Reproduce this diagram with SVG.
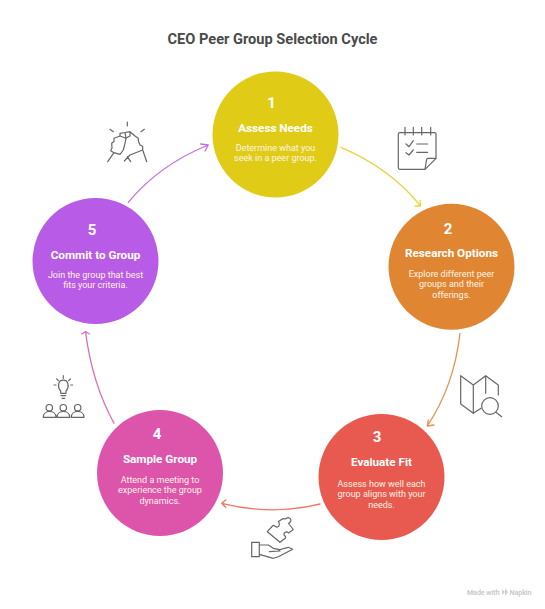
<svg xmlns="http://www.w3.org/2000/svg" width="545" height="609" viewBox="0 0 545 609">
<style>
text{font-family:Roboto,"Liberation Sans",sans-serif;text-anchor:middle;fill:#fff}
.t{font-size:14.6px;font-weight:700;fill:#4a4a4a}
.n{font-size:15px;font-weight:700}
.h{font-size:11.7px;font-weight:700}
.d{font-size:9px;fill:#fdf3e6}
.i{fill:none;stroke:#666;stroke-width:1.2;stroke-linecap:round;stroke-linejoin:round}
.c{fill:none;stroke-width:1.3;stroke-linecap:round;stroke-linejoin:round}
.m{font-size:7px;fill:#c4c4c4;font-weight:500;text-anchor:start}
</style>
<rect width="545" height="609" fill="#fff"/>
<text class="t" x="272.500" y="43.500">CEO Peer Group Selection Cycle</text>
<g id="connectors">
<path class="c" stroke="#e9d33d" d="M341 147.300Q390 168 420.700 206M415 206H420.700L420 200.500"/>
<path class="c" stroke="#e8904f" d="M460 333.300Q454 386 427.300 426M428.300 420L427.300 426L434 425"/>
<path class="c" stroke="#ee7668" d="M320 504Q272 516 221.700 503.300M225.700 500L221.700 503.300L225.700 507.300"/>
<path class="c" stroke="#e468b8" d="M114 423.300Q92 383 85.500 331.500M81.700 334L85.500 331.500L89.300 334"/>
<path class="c" stroke="#c46fe8" d="M128.300 202.300Q159 165 208.300 145M200.700 144L208.300 145L205 151"/>
</g>
<g id="node-1"><circle cx="275.500" cy="134.500" r="63" fill="#e0cc17"/>
<text class="n" x="271.500" y="108">1</text><text class="h" x="275.500" y="131.700">Assess Needs</text>
<text class="d" x="275.500" y="151">Determine what you</text><text class="d" x="275.500" y="161">seek in a peer group.</text></g>
<g id="node-2"><circle cx="451.500" cy="266.700" r="63" fill="#e08632"/>
<text class="n" x="448" y="234">2</text><text class="h" x="451.500" y="256.700">Research Options</text>
<text class="d" x="451.500" y="277">Explore different peer</text><text class="d" x="451.500" y="287">groups and their</text><text class="d" x="451.500" y="298">offerings.</text></g>
<g id="node-3"><circle cx="381.500" cy="477" r="63" fill="#e85a50"/>
<text class="n" x="377" y="441.500">3</text><text class="h" x="381.500" y="466">Evaluate Fit</text>
<text class="d" x="381.500" y="487">Assess how well each</text><text class="d" x="381.500" y="497">group aligns with your</text><text class="d" x="381.500" y="508">needs.</text></g>
<g id="node-4"><circle cx="160" cy="473" r="63" fill="#dd55ab"/>
<text class="n" x="157" y="438.500">4</text><text class="h" x="160" y="462.700">Sample Group</text>
<text class="d" x="160" y="483">Attend a meeting to</text><text class="d" x="160" y="493">experience the group</text><text class="d" x="160" y="504">dynamics.</text></g>
<g id="node-5"><circle cx="95.500" cy="261" r="63" fill="#b85be6"/>
<text class="n" x="92" y="235">5</text><text class="h" x="95.500" y="258.700">Commit to Group</text>
<text class="d" x="95.500" y="278">Join the group that best</text><text class="d" x="95.500" y="288">fits your criteria.</text></g>
<g id="icon-handshake" class="i"><path d="M127.300 122V126M110 129.300L113.300 131.700M144.300 129.300L141 131.700M107.700 161.700L114 152.700"/>
<path d="M110.700 150.700L112 148L111.700 143.300L114 141.500L114 138.300L120 136L126 138.300L125 143.300L123.300 150L120 154.300L114 152.700Z"/>
<path d="M120 136L120 133.300L125 132.500L130 131.700L135 136L138.300 138.300L138.500 141.500L140 145L142.700 146.500L142.700 150L146.700 161.700M125 132.500L126 138.300M130 131.700L130 136L126 138M142.700 150L130 155L124.300 161M127.300 156.700L130.700 161.700"/></g>
<g id="icon-checklist" class="i"><path d="M436 158.300V134Q436 132.700 434.500 132.700H400Q398.300 132.700 398.300 134.500V167.500Q398.300 169.300 400 169.300H425Z"/><path d="M436 158.300H428Q426.700 158.300 426.500 160L425 169.300M405 127.300V135M413.300 127.300V135M421.700 127.300V135M430.700 127.300V135M406 144L409 146.700L413.300 140.700M416.700 144H427.700M406 152.700L409 155L413.300 150M416.700 152.300H427.700"/></g>
<g id="icon-map" class="i"><path d="M460.700 375.700L473.300 385V413.300L460.700 404ZM473.300 385L485.700 375.700L498.300 385V395M485.700 375.700V393.300M473.300 413.300L481 408.300"/><circle cx="490" cy="406" r="8.300"/><path d="M496 412.300L501.700 416.700"/></g>
<g id="icon-puzzle" class="i"><path d="M267.300 531.700L272.500 526C274 524 275.500 527.500 277.500 527C280 526 279.500 523 278.500 521.500L283 518.500C285 520.500 287.500 516.500 289.500 518C292 519.500 291 522 288.500 523.500L293.300 529.500L288.500 533C287 531 283.500 532 284 534.500C284.500 536.500 286.500 536.500 285.500 538L280 542.300Z"/><path d="M251.700 542.300H259.300V556.700H251.700ZM259.300 545H268.300L273.300 548.300L278.300 549.300L280 551L269.300 551.700M259.300 554.300L273.300 558.300L278.300 556.700L292.700 549.300L288.300 547.300L278.300 550"/></g>
<g id="icon-people" class="i"><path d="M63.300 375.700V378.300M56.700 379L58.300 380.700M70.300 379L68.700 380.700M54 385H56M70.700 385H72.700M60.700 391C57 387 58 380.200 63.300 380.200C68.600 380.200 69.600 387 66 391V393.300H60.700ZM61 395.700H65.700M62 398.300H64.700"/><circle cx="49.300" cy="407.700" r="3.200"/><circle cx="63.300" cy="407.700" r="3.200"/><circle cx="77.700" cy="407.700" r="3.200"/><path d="M43.300 417.300C43.300 409.500 56 409.500 56 417.300ZM57 417.300C57 409.500 69.700 409.500 69.700 417.300ZM71.300 417.300C71.300 409.500 84 409.500 84 417.300Z"/></g>
<g id="credit"><text class="m" x="467" y="594.500">Made with</text><path d="M502 589L505 592L502 595ZM505 588L508 592L505 596Z" fill="#d0d0d0"/><text class="m" x="509.500" y="594.500">Napkin</text></g>
</svg>
